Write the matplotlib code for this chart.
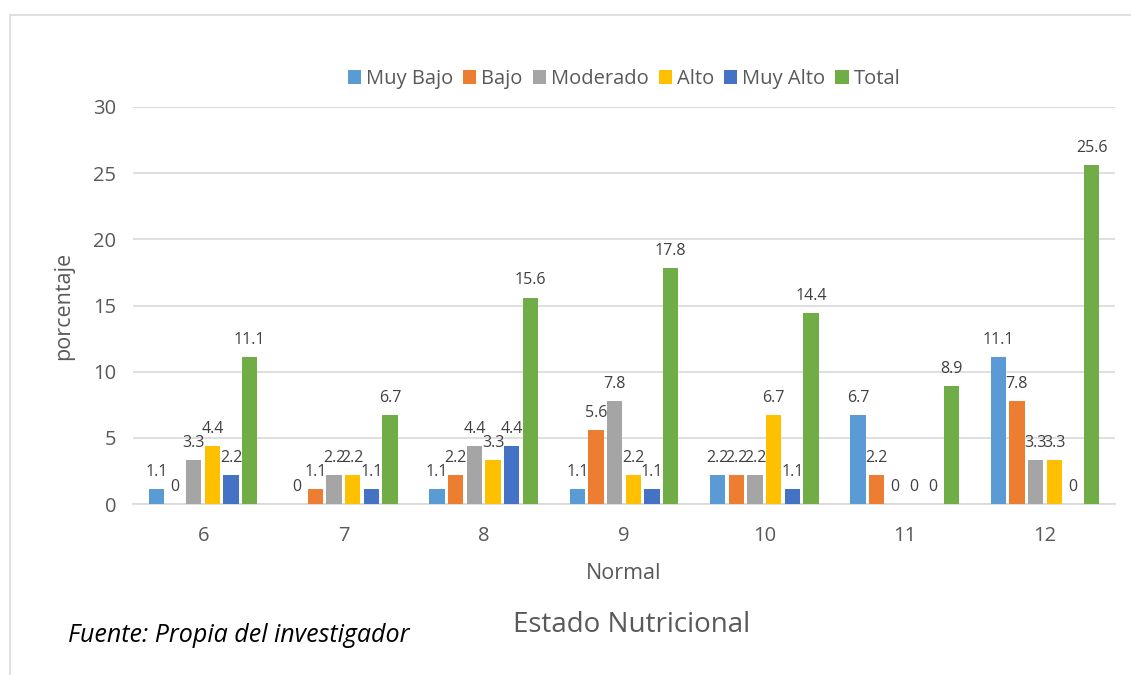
import numpy as np
import matplotlib.pyplot as plt
from matplotlib.patches import Rectangle

plt.rcParams['font.family'] = ['Open Sans', 'DejaVu Sans']

edades = ['6', '7', '8', '9', '10', '11', '12']
series = ['Muy Bajo', 'Bajo', 'Moderado', 'Alto', 'Muy Alto', 'Total']
muy_bajo = [1.1, 0, 1.1, 1.1, 2.2, 6.7, 11.1]
bajo = [0, 1.1, 2.2, 5.6, 2.2, 2.2, 7.8]
moderado = [3.3, 2.2, 4.4, 7.8, 2.2, 0, 3.3]
alto = [4.4, 2.2, 3.3, 2.2, 6.7, 0, 3.3]
muy_alto = [2.2, 1.1, 4.4, 1.1, 1.1, 0, 0]
total = [11.1, 6.7, 15.6, 17.8, 14.4, 8.9, 25.6]
colores = ['#5B9BD5', '#ED7D31', '#A5A5A5', '#FFC000', '#4472C4', '#70AD47']

valores = [muy_bajo, bajo, moderado, alto, muy_alto, total]

fig = plt.figure(figsize=(11.31, 6.75), dpi=100)
# chart frame
fig.patches.append(Rectangle((10 / 1131, -0.01), 1.2, 1 - 15 / 675 + 0.01,
                             transform=fig.transFigure, fill=False,
                             edgecolor='#d9d9d9', linewidth=1.2))

ax = fig.add_axes([133 / 1131, 1 - 504 / 675, (1115 - 133) / 1131, (504 - 107) / 675])
x = np.arange(len(edades))
w = 0.133
for i, (nombre, vals, c) in enumerate(zip(series, valores, colores)):
    pos = x + (i - 2.5) * w
    ax.bar(pos, vals, width=w * 0.82, color=c, label=nombre, zorder=3)
    for xp, v in zip(pos, vals):
        ax.text(xp, v + 0.7, f'{v:g}', ha='center', va='bottom',
                fontsize=11.5, color='#404040', zorder=4)

ax.set_xlim(-0.5, len(edades) - 0.5)
ax.set_ylim(0, 30)
ax.set_yticks(range(0, 31, 5))
ax.set_xticks(x)
ax.set_xticklabels(edades)
ax.grid(axis='y', color='#d9d9d9', linewidth=1.2, zorder=0)
ax.tick_params(axis='y', length=0, labelsize=14.5, colors='#595959', pad=12)
ax.tick_params(axis='x', length=0, labelsize=14.5, colors='#595959', pad=16)
for s in ['top', 'right', 'left']:
    ax.spines[s].set_visible(False)
ax.spines['bottom'].set_color('#d9d9d9')
ax.spines['bottom'].set_linewidth(1.2)

ax.set_ylabel('porcentaje', fontsize=15.5, color='#595959', labelpad=14)
ax.set_xlabel('Normal', fontsize=15.5, color='#595959', labelpad=12)

ax.legend(loc='lower center', bbox_to_anchor=(0.5, 1.0), ncol=6, frameon=False,
          fontsize=14.5, handlelength=0.65, handleheight=0.65, handletextpad=0.25,
          columnspacing=0.5, labelcolor='#595959')

fig.text(632 / 1131, 1 - 625 / 675, 'Estado Nutricional', ha='center', va='center',
         fontsize=20, color='#595959')
fig.text(68 / 1131, 1 - 636 / 675, 'Fuente: Propia del investigador', ha='left',
         va='center', fontsize=18, style='italic', color='black')

fig.savefig('out.png', dpi=100)
